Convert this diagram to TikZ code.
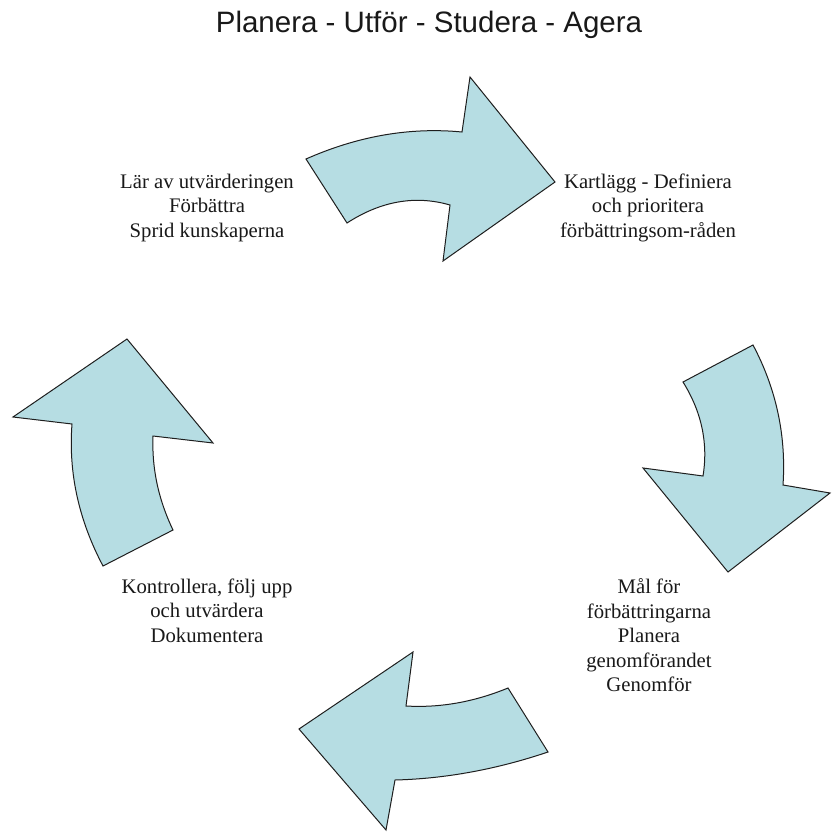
\documentclass[tikz,border=0pt]{standalone}
\usepackage{fontspec}
\setmainfont{Liberation Serif}
\newfontfamily\titlefont{Liberation Sans}
\definecolor{arrowfill}{RGB}{182,221,227}
\definecolor{arrowline}{RGB}{30,30,30}
\begin{document}
\begin{tikzpicture}[x=1pt,y=-1pt,
  cyclearrow/.style={fill=arrowfill,draw=arrowline,line width=1pt,line join=miter},
  steptext/.style={anchor=north,inner sep=0pt,align=center,
    font=\fontsize{20.7}{24.5}\selectfont,text=black!90}]
  \useasboundingbox[fill=white] (0,0) rectangle (832,832);

  % title
  \node[anchor=base,inner sep=0pt,font=\titlefont\fontsize{29.5}{34}\selectfont,text=black!90]
    (title) at (429,33) {Planera - Utför - Studera - Agera};

  % four curved arrows forming the cycle
  \path[cyclearrow] (306,159) .. controls (358,136) and (410,127) .. (462,132) -- (470,77)
    -- (555,182) -- (443,261) -- (450,205)
    .. controls (415.3,195) and (381,201) .. (347,223) -- cycle;
  \path[cyclearrow] (683,382) -- (753,345)
    .. controls (776.3,389) and (786.3,435.7) .. (783,485)
    -- (830,493) -- (728,572) -- (643,468) -- (703,476)
    .. controls (708.3,443.3) and (701.7,412) .. (683,382) -- cycle;
  \path[cyclearrow] (508,688) -- (548,752)
    .. controls (496.7,769.3) and (445.7,778.7) .. (395,780)
    -- (386,830) -- (299,729) -- (413,652) -- (406,706)
    .. controls (440,708) and (474,702) .. (508,688) -- cycle;
  \path[cyclearrow] (103,566) -- (173,530)
    .. controls (158.3,499.3) and (151.7,468) .. (153,436)
    -- (213,443) -- (127,339) -- (13,417) -- (72,424)
    .. controls (68.3,472.7) and (78.7,520) .. (103,566) -- cycle;

  % step descriptions
  \node[steptext] (learn) at (207,173.5)
    {Lär av utvärderingen\\Förbättra\\Sprid kunskaperna};
  \node[steptext] (map) at (648,173.5)
    {Kartlägg - Definiera\\och prioritera\\förbättringsom-råden};
  \node[steptext] (check) at (207,578.5)
    {Kontrollera, följ upp\\och utvärdera\\Dokumentera};
  \node[steptext] (goals) at (649,578.5)
    {Mål för\\förbättringarna\\Planera\\genomförandet\\Genomför};
\end{tikzpicture}
\end{document}
